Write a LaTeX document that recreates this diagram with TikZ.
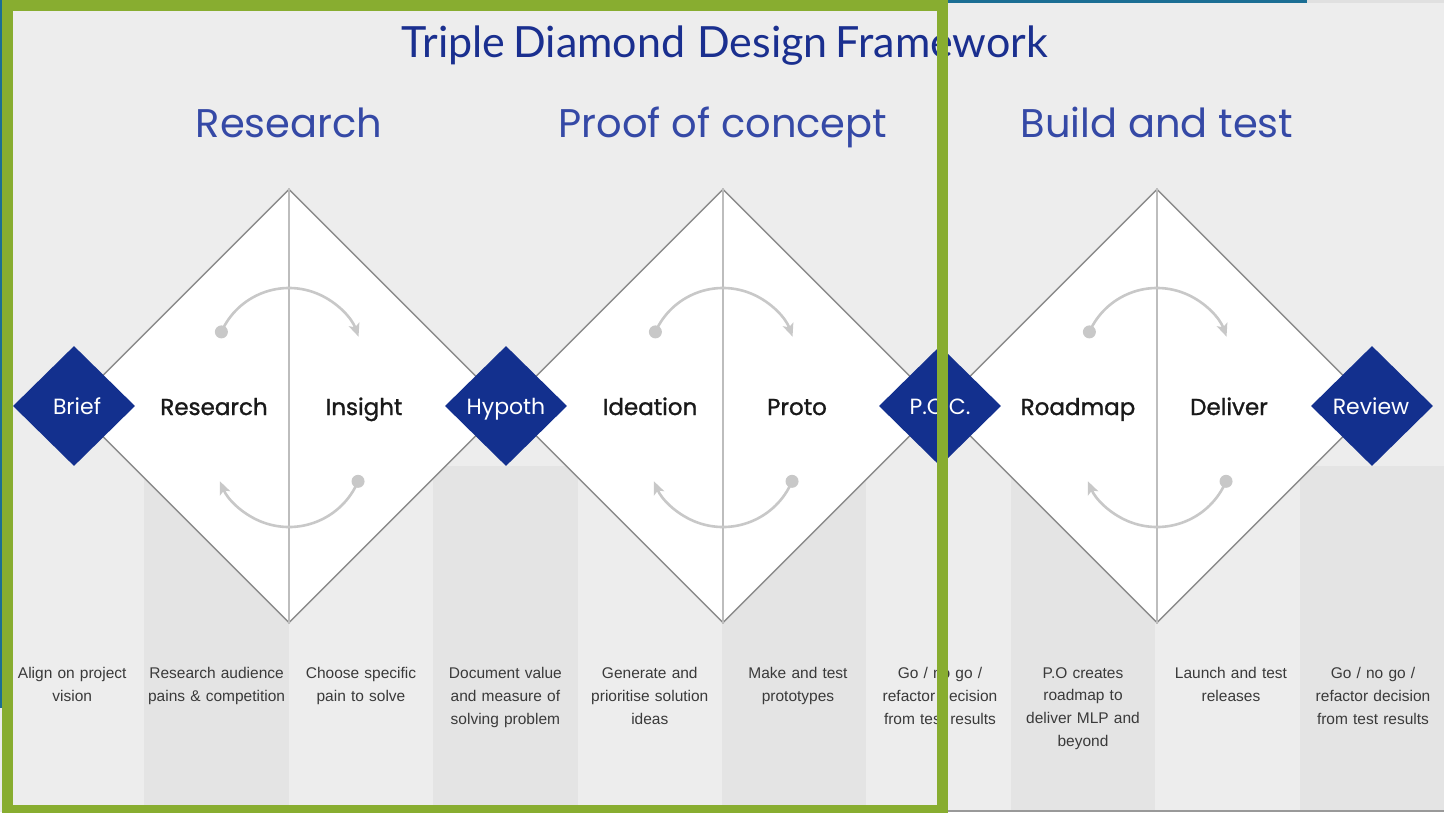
\documentclass[tikz,border=0pt]{standalone}
\usepackage{fontspec}
\setmainfont{Liberation Sans}
\newfontfamily\titlefont{Lato}
\newfontfamily\headfont{Poppins}
\newfontfamily\labelfont[FakeBold=1.2]{Poppins}
\usetikzlibrary{shapes.geometric,arrows.meta,calc}
\definecolor{bgc}{HTML}{EDEDED}
\definecolor{stripec}{HTML}{E4E4E4}
\definecolor{outlinec}{HTML}{8A8A8A}
\definecolor{midc}{HTML}{BDBDBD}
\definecolor{arcc}{HTML}{C8C8C8}
\definecolor{navy}{HTML}{13308E}
\definecolor{titleblue}{HTML}{1A2F8F}
\definecolor{headblue}{HTML}{3549A6}
\definecolor{framegreen}{HTML}{88AD30}
\definecolor{tealc}{HTML}{1B6E94}
\definecolor{bodyc}{HTML}{3A3A3A}
\tikzset{
  bigdia/.style={diamond, draw=outlinec, line width=1.4pt, fill=white, minimum width=434pt, minimum height=434pt, inner sep=0pt},
  smalldia/.style={diamond, fill=navy, minimum width=122pt, minimum height=120pt, inner sep=0pt},
  smalllabel/.style={text=white, font=\headfont\fontsize{22}{24}\selectfont, anchor=base},
  inlabel/.style={font=\labelfont\fontsize{23}{26}\selectfont, text=black!90, anchor=base},
  phasehead/.style={font=\headfont\fontsize{40}{44}\selectfont, text=headblue, anchor=base},
  desc/.style={font=\fontsize{15.5}{22.8}\selectfont, text=bodyc, align=center, anchor=north, text width=142pt, inner sep=0pt},
  cyclearc/.style={draw=arcc, line width=2.6pt},
  arctip/.style={-{Stealth[length=13pt,width=11pt,inset=3pt]}},
  frame/.style={draw=framegreen, line width=11pt}
}
\begin{document}
\begin{tikzpicture}[x=1pt,y=-1pt]
\useasboundingbox (0,0) rectangle (1444,812);
\fill[bgc] (0,0) rectangle (1444,812);
% stripes
\foreach \k in {1,3,5,7,9}{
  \fill[stripec] ({144.4*\k},466) rectangle ({144.4*(\k+1)},812);
}
% big diamonds
\foreach \i/\nm in {0/dA,1/dB,2/dC}{
  \node[bigdia] (\nm) at ({289+434*\i},406) {};
  \draw[midc, line width=2.4pt] (\nm.north) -- (\nm.south);
  \coordinate (\nm up) at ({289+434*\i},362);
  \coordinate (\nm lo) at ({289+434*\i},452);
  \draw[cyclearc, arctip] ($(\nm up)+(-156:74)$) arc[start angle=-156, end angle=-20, radius=74];
  \fill[arcc] ($(\nm up)+(-156:74)$) circle (6.5pt);
  \draw[cyclearc, arctip] ($(\nm lo)+(23:75)$) arc[start angle=23, end angle=157, radius=75];
  \fill[arcc] ($(\nm lo)+(23:75)$) circle (6.5pt);
}
% small diamonds
\node[smalldia] (brief) at (74,406) {};
\node[smalldia] (hyp) at (506,406) {};
\node[smalldia] (poc) at (940,406) {};
\node[smalldia] (rev) at (1372,406) {};
\node[smalllabel] (briefl) at (77,414) {Brief};
\node[smalllabel] (hypl) at (506,414) {Hypoth};
\node[smalllabel] (pocl) at (940,414) {P.O.C.};
\node[smalllabel] (revl) at (1371,414) {Review};
% inner labels
\node[inlabel] (l1) at (214,415) {Research};
\node[inlabel] (l2) at (364,415) {Insight};
\node[inlabel] (l3) at (650,415) {Ideation};
\node[inlabel] (l4) at (797,415) {Proto};
\node[inlabel] (l5) at (1078,415) {Roadmap};
\node[inlabel] (l6) at (1229,415) {Deliver};
% phase headings
\node[phasehead] (h1) at (289,137) {Research};
\node[phasehead] (h2) at (723,137) {Proof of concept};
\node[phasehead] (h3) at (1157,137) {Build and test};
% title
\node[font=\titlefont\fontsize{43}{48}\selectfont, text=titleblue, anchor=base] (title) at (725,57) {Triple\hspace{-3pt} Diamond\hspace{1pt} Design\hspace{-3pt} Framework};
% descriptions
\node[desc] (t0) at (72.2,667) {Align on project\\vision};
\node[desc] (t1) at (216.6,667) {Research audience\\pains \& competition};
\node[desc] (t2) at (361,667) {Choose specific\\pain to solve};
\node[desc] (t3) at (505.4,667) {Document value\\and measure of\\solving problem};
\node[desc] (t4) at (649.8,667) {Generate and\\prioritise solution\\ideas};
\node[desc] (t5) at (798,667) {Make and test\\prototypes};
\node[desc] (t6) at (940,667) {Go / no go /\\refactor decision\\from test results};
\node[desc] (t7) at (1083,667) {P.O creates\\roadmap to\\deliver MLP and\\beyond};
\node[desc] (t8) at (1231,667) {Launch and test\\releases};
\node[desc] (t9) at (1373,667) {Go / no go /\\refactor decision\\from test results};
% edge lines
\fill[tealc] (0,0) rectangle (2.5,708);
\fill[tealc] (948,0) rectangle (1307,2.5);
\fill[black!12] (1307,0) rectangle (1444,2.5);
\fill[black!40] (948,809.5) rectangle (1444,812);
% green frame
\draw[frame] (7,5) rectangle (942,810);
\end{tikzpicture}
\end{document}
